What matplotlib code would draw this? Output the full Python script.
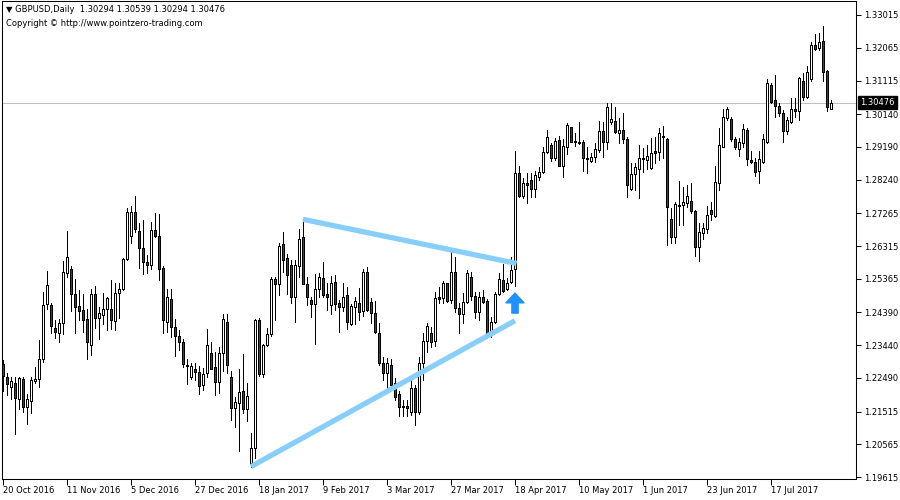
import matplotlib.pyplot as plt
import numpy as np

# GBPUSD daily candles, 20 Oct 2016 .. early Aug 2017
opens = [
    1.2289, 1.2253, 1.2222, 1.2233, 1.2187, 1.2245, 1.2164, 1.2182, 1.2241, 1.2245,
    1.2305, 1.2463, 1.2460, 1.2393, 1.2378, 1.2407, 1.2554, 1.2564, 1.2492, 1.2457,
    1.2445, 1.2419, 1.2345, 1.2492, 1.2422, 1.2431, 1.2448, 1.2448, 1.2414, 1.2494,
    1.2506, 1.2593, 1.2661, 1.2731, 1.2676, 1.2625, 1.2584, 1.2576, 1.2677, 1.2661,
    1.2567, 1.2412, 1.2477, 1.2396, 1.2371, 1.2354, 1.2287, 1.2251, 1.2274, 1.2266,
    1.2228, 1.2262, 1.2322, 1.2282, 1.2238, 1.2322, 1.2412, 1.2253, 1.2161, 1.2176,
    1.2212, 1.2159, 1.2001, 1.2045, 1.2417, 1.2260, 1.2345, 1.2376, 1.2536, 1.2521,
    1.2637, 1.2596, 1.2577, 1.2485, 1.2575, 1.2657, 1.2521, 1.2475, 1.2463, 1.2508,
    1.2538, 1.2492, 1.2460, 1.2526, 1.2465, 1.2456, 1.2489, 1.2405, 1.2456, 1.2467,
    1.2444, 1.2555, 1.2470, 1.2436, 1.2380, 1.2293, 1.2262, 1.2287, 1.2233, 1.2202,
    1.2168, 1.2168, 1.2151, 1.2219, 1.2151, 1.2291, 1.2357, 1.2380, 1.2357, 1.2485,
    1.2480, 1.2523, 1.2475, 1.2557, 1.2451, 1.2434, 1.2470, 1.2543, 1.2487, 1.2441,
    1.2483, 1.2472, 1.2374, 1.2410, 1.2492, 1.2533, 1.2506, 1.2526, 1.2564, 1.2842,
    1.2777, 1.2813, 1.2823, 1.2796, 1.2833, 1.2847, 1.2903, 1.2925, 1.2886, 1.2939,
    1.2864, 1.2920, 1.2976, 1.2936, 1.2934, 1.2934, 1.2888, 1.2879, 1.2889, 1.2910,
    1.2964, 1.2934, 1.2990, 1.2995, 1.2960, 1.2968, 1.2941, 1.2797, 1.2840, 1.2854,
    1.2886, 1.2881, 1.2857, 1.2906, 1.2905, 1.2947, 1.2941, 1.2709, 1.2659, 1.2751,
    1.2751, 1.2755, 1.2761, 1.2732, 1.2630, 1.2670, 1.2680, 1.2736, 1.2719, 1.2813,
    1.2920, 1.3002, 1.2999, 1.2941, 1.2912, 1.2931, 1.2968, 1.2881, 1.2876, 1.2850,
    1.2876, 1.2934, 1.3098, 1.3055, 1.3038, 1.3016, 1.2966, 1.2990, 1.3029, 1.3024,
    1.3110, 1.3065, 1.3115, 1.3215, 1.3205, 1.3226, 1.3139, 1.30294,
]
highs = [
    1.2301, 1.2264, 1.2251, 1.2251, 1.2251, 1.2251, 1.2202, 1.2253, 1.2282, 1.2359,
    1.2498, 1.2559, 1.2465, 1.2417, 1.2419, 1.2589, 1.2674, 1.2574, 1.2535, 1.2504,
    1.2492, 1.2448, 1.2506, 1.2516, 1.2456, 1.2494, 1.2485, 1.2533, 1.2525, 1.2523,
    1.2596, 1.2741, 1.2748, 1.2777, 1.2697, 1.2707, 1.2606, 1.2700, 1.2728, 1.2724,
    1.2574, 1.2506, 1.2506, 1.2419, 1.2388, 1.2361, 1.2303, 1.2293, 1.2291, 1.2284,
    1.2277, 1.2390, 1.2354, 1.2325, 1.2340, 1.2434, 1.2434, 1.2270, 1.2195, 1.2274,
    1.2318, 1.2233, 1.2088, 1.2419, 1.2422, 1.2347, 1.2393, 1.2543, 1.2543, 1.2641,
    1.2673, 1.2608, 1.2591, 1.2591, 1.2681, 1.2709, 1.2543, 1.2485, 1.2550, 1.2552,
    1.2584, 1.2525, 1.2545, 1.2548, 1.2475, 1.2525, 1.2512, 1.2463, 1.2483, 1.2509,
    1.2565, 1.2572, 1.2480, 1.2473, 1.2409, 1.2309, 1.2306, 1.2303, 1.2248, 1.2212,
    1.2185, 1.2185, 1.2258, 1.2229, 1.2311, 1.2380, 1.2409, 1.2398, 1.2499, 1.2512,
    1.2531, 1.2525, 1.2615, 1.2601, 1.2465, 1.2494, 1.2562, 1.2557, 1.2499, 1.2499,
    1.2504, 1.2477, 1.2427, 1.2499, 1.2552, 1.2579, 1.2538, 1.2599, 1.2907, 1.2864,
    1.2828, 1.2842, 1.2842, 1.2850, 1.2862, 1.2918, 1.2968, 1.2929, 1.2944, 1.2951,
    1.2941, 1.2987, 1.2978, 1.2960, 1.2990, 1.2939, 1.2920, 1.2900, 1.2931, 1.2993,
    1.2992, 1.3047, 1.3045, 1.3034, 1.3002, 1.3016, 1.2949, 1.2873, 1.2873, 1.2925,
    1.2915, 1.2925, 1.2944, 1.2949, 1.2973, 1.2980, 1.2944, 1.2741, 1.2760, 1.2821,
    1.2804, 1.2809, 1.2815, 1.2736, 1.2697, 1.2697, 1.2748, 1.2760, 1.2864, 1.2973,
    1.3028, 1.3034, 1.3005, 1.2949, 1.2944, 1.2985, 1.2973, 1.2908, 1.2886, 1.2908,
    1.2956, 1.3115, 1.3103, 1.3128, 1.3045, 1.3026, 1.3007, 1.3060, 1.3060, 1.3123,
    1.3134, 1.3154, 1.3224, 1.3246, 1.3248, 1.3270, 1.3142, 1.30539,
]
lows = [
    1.2211, 1.2200, 1.2187, 1.2086, 1.2159, 1.2151, 1.2115, 1.2146, 1.2233, 1.2222,
    1.2295, 1.2450, 1.2380, 1.2364, 1.2354, 1.2376, 1.2541, 1.2444, 1.2380, 1.2417,
    1.2382, 1.2303, 1.2316, 1.2393, 1.2361, 1.2405, 1.2388, 1.2390, 1.2388, 1.2422,
    1.2504, 1.2591, 1.2639, 1.2673, 1.2569, 1.2550, 1.2552, 1.2564, 1.2657, 1.2533,
    1.2378, 1.2383, 1.2369, 1.2313, 1.2330, 1.2282, 1.2231, 1.2247, 1.2243, 1.2202,
    1.2214, 1.2253, 1.2274, 1.2200, 1.2204, 1.2269, 1.2262, 1.2127, 1.2108, 1.2038,
    1.2146, 1.2124, 1.1992, 1.2016, 1.2256, 1.2253, 1.2343, 1.2371, 1.2417, 1.2490,
    1.2557, 1.2492, 1.2465, 1.2412, 1.2543, 1.2521, 1.2460, 1.2427, 1.2347, 1.2483,
    1.2485, 1.2446, 1.2434, 1.2446, 1.2383, 1.2443, 1.2390, 1.2403, 1.2405, 1.2417,
    1.2429, 1.2443, 1.2407, 1.2378, 1.2287, 1.2243, 1.2219, 1.2224, 1.2185, 1.2139,
    1.2139, 1.2139, 1.2142, 1.2112, 1.2144, 1.2243, 1.2325, 1.2340, 1.2342, 1.2465,
    1.2465, 1.2468, 1.2465, 1.2441, 1.2378, 1.2407, 1.2465, 1.2475, 1.2422, 1.2417,
    1.2465, 1.2364, 1.2369, 1.2407, 1.2490, 1.2499, 1.2504, 1.2523, 1.2517, 1.2773,
    1.2772, 1.2757, 1.2773, 1.2775, 1.2823, 1.2842, 1.2902, 1.2879, 1.2881, 1.2863,
    1.2831, 1.2898, 1.2932, 1.2922, 1.2927, 1.2850, 1.2844, 1.2876, 1.2875, 1.2905,
    1.2891, 1.2912, 1.2985, 1.2958, 1.2931, 1.2929, 1.2775, 1.2794, 1.2794, 1.2770,
    1.2847, 1.2854, 1.2854, 1.2873, 1.2881, 1.2886, 1.2635, 1.2639, 1.2641, 1.2693,
    1.2693, 1.2746, 1.2726, 1.2603, 1.2589, 1.2651, 1.2670, 1.2707, 1.2715, 1.2794,
    1.2918, 1.2997, 1.2937, 1.2912, 1.2893, 1.2918, 1.2867, 1.2871, 1.2835, 1.2813,
    1.2871, 1.2931, 1.3045, 1.3005, 1.3009, 1.2934, 1.2956, 1.2987, 1.3005, 1.2997,
    1.3055, 1.3060, 1.3111, 1.3200, 1.3200, 1.3111, 1.3024, 1.30294,
]
closes = [
    1.2255, 1.2231, 1.2239, 1.2190, 1.2248, 1.2164, 1.2189, 1.2242, 1.2245, 1.2303,
    1.2460, 1.2518, 1.2400, 1.2381, 1.2407, 1.2555, 1.2599, 1.2492, 1.2456, 1.2442,
    1.2418, 1.2354, 1.2492, 1.2422, 1.2436, 1.2448, 1.2480, 1.2417, 1.2494, 1.2506,
    1.2593, 1.2731, 1.2731, 1.2680, 1.2625, 1.2584, 1.2576, 1.2677, 1.2661, 1.2564,
    1.2417, 1.2485, 1.2396, 1.2371, 1.2354, 1.2289, 1.2284, 1.2284, 1.2267, 1.2226,
    1.2260, 1.2345, 1.2276, 1.2238, 1.2322, 1.2419, 1.2287, 1.2161, 1.2178, 1.2209,
    1.2159, 1.2198, 1.2045, 1.2417, 1.2260, 1.2345, 1.2376, 1.2536, 1.2521, 1.2632,
    1.2591, 1.2548, 1.2485, 1.2577, 1.2651, 1.2521, 1.2483, 1.2463, 1.2506, 1.2541,
    1.2490, 1.2485, 1.2523, 1.2463, 1.2456, 1.2485, 1.2410, 1.2458, 1.2472, 1.2441,
    1.2555, 1.2446, 1.2438, 1.2381, 1.2291, 1.2262, 1.2293, 1.2229, 1.2195, 1.2164,
    1.2164, 1.2162, 1.2219, 1.2149, 1.2291, 1.2357, 1.2400, 1.2352, 1.2480, 1.2479,
    1.2523, 1.2473, 1.2557, 1.2451, 1.2434, 1.2468, 1.2552, 1.2487, 1.2441, 1.2483,
    1.2468, 1.2374, 1.2410, 1.2492, 1.2535, 1.2502, 1.2525, 1.2562, 1.2842, 1.2777,
    1.2813, 1.2809, 1.2796, 1.2838, 1.2845, 1.2903, 1.2947, 1.2886, 1.2937, 1.2864,
    1.2922, 1.2983, 1.2934, 1.2933, 1.2931, 1.2886, 1.2885, 1.2891, 1.2913, 1.2966,
    1.2932, 1.3034, 1.2999, 1.2961, 1.2967, 1.2941, 1.2808, 1.2840, 1.2860, 1.2888,
    1.2883, 1.2893, 1.2902, 1.2902, 1.2958, 1.2951, 1.2744, 1.2657, 1.2753, 1.2748,
    1.2759, 1.2777, 1.2734, 1.2630, 1.2673, 1.2683, 1.2722, 1.2724, 1.2817, 1.2925,
    1.3005, 1.3028, 1.2941, 1.2918, 1.2934, 1.2970, 1.2883, 1.2876, 1.2847, 1.2883,
    1.2941, 1.3103, 1.3050, 1.3038, 1.3018, 1.2966, 1.2997, 1.3028, 1.3024, 1.3118,
    1.3063, 1.3136, 1.3215, 1.3202, 1.3222, 1.3137, 1.3036, 1.30476,
]

date_idx = [0, 16, 32, 48, 64, 80, 96, 112, 128, 144, 160, 176, 192]
date_labels = ['20 Oct 2016', '11 Nov 2016', '5 Dec 2016', '27 Dec 2016',
               '18 Jan 2017', '9 Feb 2017', '3 Mar 2017', '27 Mar 2017',
               '18 Apr 2017', '10 May 2017', '1 Jun 2017', '23 Jun 2017',
               '17 Jul 2017']
price_ticks = [1.33015, 1.32065, 1.31115, 1.30140, 1.29190, 1.28240, 1.27265,
               1.26315, 1.25365, 1.24390, 1.23440, 1.22490, 1.21515, 1.20565,
               1.19615]

# triangle trendlines (bar index, price)
upper_line = [(75, 1.2709), (128.4, 1.2581)]
lower_line = [(62, 1.1992), (128, 1.2415)]
signal_bar = 128
signal_arrow = (1.2437, 1.2495)
last_price = 1.30476

o = np.array(opens)
h = np.array(highs)
l = np.array(lows)
c = np.array(closes)
x = np.arange(len(o))
up = c >= o

fig = plt.figure(figsize=(9, 5), dpi=100)
ax = fig.add_axes([2 / 900, 21 / 500, 854 / 900, 478 / 500])

ax.axhline(last_price, color='#c0c0c0', lw=0.75, zorder=0)

ax.vlines(x, l, h, color='black', lw=0.72, antialiased=False, zorder=2)
body_bottom = np.minimum(o, c)
body_height = np.abs(c - o)
ax.bar(x, body_height, bottom=body_bottom, width=0.5,
       color=np.where(up, 'white', '#dd0000'), edgecolor='black',
       linewidth=0.72, antialiased=False, zorder=3)

for line in (upper_line, lower_line):
    xs, ys = zip(*line)
    ax.plot(xs, ys, color='#87cefa', lw=3.8, solid_capstyle='butt', zorder=4)

ax.annotate('', xy=(signal_bar, signal_arrow[1]), xytext=(signal_bar, signal_arrow[0]),
            arrowprops=dict(arrowstyle='simple,head_width=13,head_length=7,tail_width=4.5',
                            mutation_scale=1, color='#1e90ff', shrinkA=0, shrinkB=0),
            zorder=5)

ax.set_xlim(-0.25, 213.25)
ax.set_ylim(1.19559, 1.33421)

ax.set_xticks(date_idx)
ax.set_xticklabels(date_labels, ha='left', fontsize=6)
ax.tick_params(axis='x', length=4, width=0.75, pad=1)

ax.yaxis.tick_right()
ax.set_yticks(price_ticks)
ax.set_yticklabels(['%.5f' % p for p in price_ticks], fontsize=6)
ax.tick_params(axis='y', length=3.5, width=0.75, pad=2)

for s in ax.spines.values():
    s.set_color('black')
    s.set_linewidth(0.75)

ax.annotate('%.5f' % last_price, xy=(1.0, last_price), xycoords=('axes fraction', 'data'),
            xytext=(3, 0), textcoords='offset points', va='center', ha='left',
            fontsize=6, color='white',
            bbox=dict(boxstyle='square,pad=0.25', fc='black', ec='black'))

fig.text(6 / 900, 1 - 9 / 500, '\u25bc GBPUSD,Daily  1.30294 1.30539 1.30294 1.30476',
         fontsize=6, va='center', ha='left')
fig.text(6 / 900, 1 - 23 / 500, 'Copyright \u00a9 http://www.pointzero-trading.com',
         fontsize=6, va='center', ha='left')

fig.savefig('out.png', dpi=100, facecolor='white')
